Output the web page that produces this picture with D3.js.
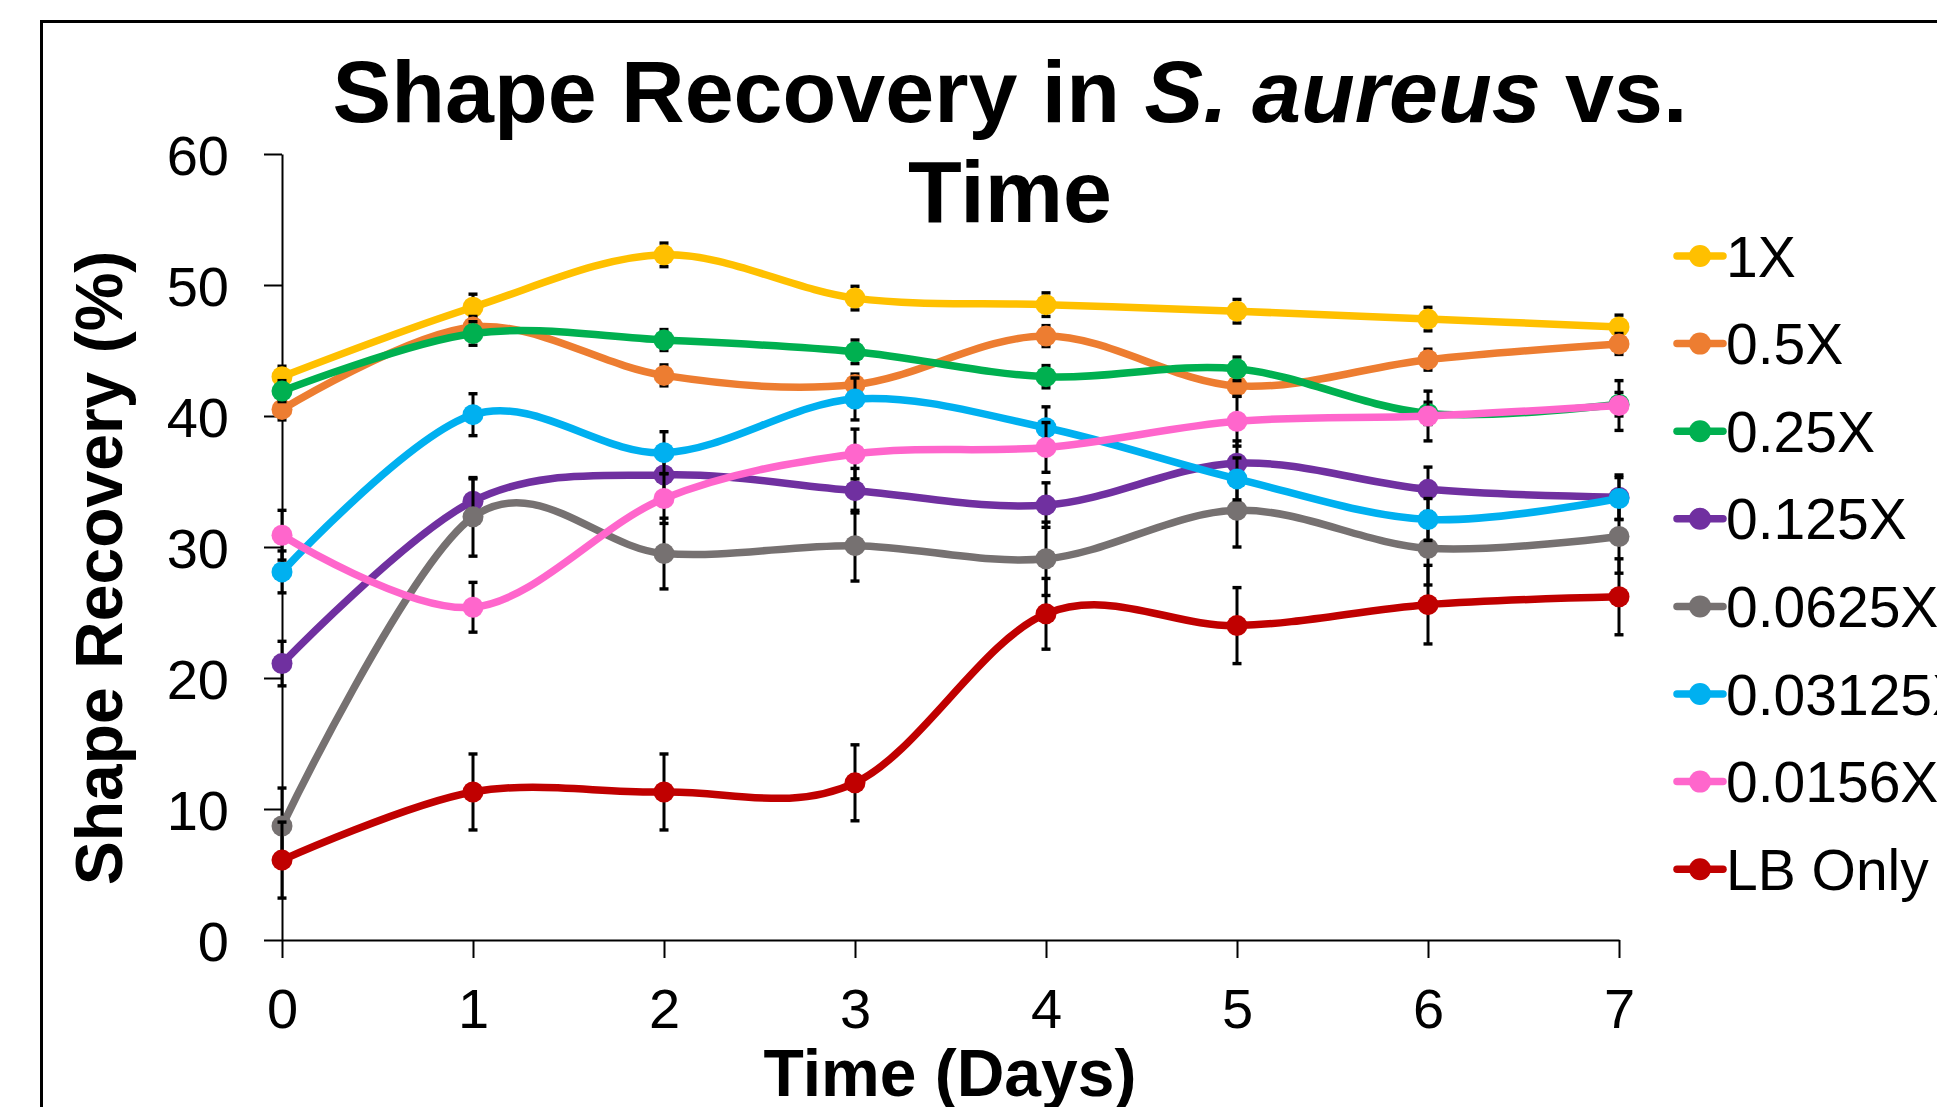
<!DOCTYPE html>
<html>
<head>
<meta charset="utf-8">
<script src="https://cdn.jsdelivr.net/npm/d3@7"></script>
<style>
  html, body { margin: 0; padding: 0; background: #fff; overflow: hidden; }
  svg { display: block; font-family: "Liberation Sans", Arial, Helvetica, sans-serif; }
</style>
</head>
<body>
<svg id="chart" width="1937" height="1107"></svg>
<script>
// ---- data ----
const days = [0, 1, 2, 3, 4, 5, 6, 7];
const seriesNames = ["1X", "0.5X", "0.25X", "0.125X", "0.0625X", "0.03125X", "0.0156X", "LB Only"];
const seriesColors = ["#FFC000", "#ED7D31", "#00B050", "#7030A0", "#767171", "#00B0F0", "#FF66CC", "#C00000"];

const v1X      = [43.0, 48.3, 52.3, 49.0, 48.5, 48.0, 47.4, 46.8];
const v05X     = [40.5, 46.8, 43.1, 42.4, 46.1, 42.3, 44.3, 45.5];
const v025X    = [41.9, 46.3, 45.8, 44.9, 43.0, 43.6, 40.2, 40.9];
const v0125X   = [21.1, 33.5, 35.5, 34.3, 33.2, 36.4, 34.4, 33.8];
const v00625X  = [8.7, 32.3, 29.5, 30.1, 29.1, 32.8, 29.9, 30.8];
const v003125X = [28.1, 40.1, 37.2, 41.3, 39.1, 35.2, 32.1, 33.7];
const v00156X  = [30.9, 25.4, 33.7, 37.1, 37.6, 39.6, 40.0, 40.8];
const vLB      = [6.1, 11.3, 11.3, 12.0, 24.9, 24.0, 25.6, 26.2];

const e1X      = [0.8, 1.0, 0.9, 0.9, 0.9, 0.9, 0.9, 0.9];
const e05X     = [0.8, 0.8, 0.8, 0.8, 0.8, 0.8, 0.8, 0.8];
const e025X    = [0.8, 0.9, 0.8, 0.9, 0.85, 0.9, 0.85, 0.9];
const e0125X   = [1.7, 1.7, 1.6, 1.7, 1.7, 1.7, 1.7, 1.7];
const e00625X  = [2.9, 3.0, 2.7, 2.7, 2.8, 2.8, 2.8, 2.8];
const e003125X = [1.6, 1.6, 1.6, 1.6, 1.6, 1.6, 1.6, 1.6];
const e00156X  = [1.9, 1.9, 1.9, 1.9, 1.9, 1.9, 1.9, 1.9];
const eLB      = [2.9, 2.9, 2.9, 2.9, 2.7, 2.9, 3.0, 2.9];

const yTicks = [0, 10, 20, 30, 40, 50, 60];
const xTicks = [0, 1, 2, 3, 4, 5, 6, 7];

const seriesValues = [v1X, v05X, v025X, v0125X, v00625X, v003125X, v00156X, vLB];
const seriesErrors = [e1X, e05X, e025X, e0125X, e00625X, e003125X, e00156X, eLB];

// ---- drawing ----
const svg = d3.select("#chart");
const FONT = '"Liberation Sans", Arial, Helvetica, sans-serif';

// outer chart border (extends past the visible frame)
svg.append("rect")
  .attr("x", 41.5).attr("y", 21.5)
  .attr("width", 2100).attr("height", 1300)
  .attr("fill", "none").attr("stroke", "#000").attr("stroke-width", 3);

const x = d3.scaleLinear().domain([0, 7]).range([282, 1619]);
const y = d3.scaleLinear().domain([0, 60]).range([940, 154]);

// axes
const yAxis = d3.axisLeft(y).tickValues(yTicks).tickFormat(d3.format("d"))
  .tickSize(18).tickSizeOuter(0).tickPadding(35);
const xAxis = d3.axisBottom(x).tickValues(xTicks).tickFormat(d3.format("d"))
  .tickSize(18).tickSizeOuter(0).tickPadding(30);

const gy = svg.append("g").attr("transform", "translate(282,0)").call(yAxis);
const gx = svg.append("g").attr("transform", "translate(0,940)").call(xAxis);

[gy, gx].forEach(g => {
  g.select(".domain").attr("stroke", "#000").attr("stroke-width", 2);
  g.selectAll(".tick line").attr("stroke", "#000").attr("stroke-width", 2);
  g.selectAll(".tick text")
    .attr("fill", "#000")
    .style("font-family", FONT)
    .style("font-size", "56px");
});
gy.selectAll(".tick text").attr("dy", "0.36em");
gx.selectAll(".tick text").attr("dy", "0.72em");

// series
const line = d3.line()
  .x((d, i) => x(days[i]))
  .y(d => y(d))
  .curve(d3.curveCardinal.tension(0));

seriesValues.forEach((vals, si) => {
  const color = seriesColors[si];
  const errs = seriesErrors[si];
  const g = svg.append("g").attr("class", "series");

  g.append("path")
    .datum(vals)
    .attr("d", line)
    .attr("fill", "none")
    .attr("stroke", color)
    .attr("stroke-width", 7.5)
    .attr("stroke-linejoin", "round")
    .attr("stroke-linecap", "round");

  // error bars
  const eb = g.append("g");
  vals.forEach((v, i) => {
    const cx = x(days[i]);
    const y1 = y(v + errs[i]), y2 = y(v - errs[i]);
    eb.append("line").attr("x1", cx).attr("x2", cx).attr("y1", y1).attr("y2", y2)
      .attr("stroke", "#000").attr("stroke-width", 3);
    [y1, y2].forEach(yy => {
      eb.append("line").attr("x1", cx - 4.5).attr("x2", cx + 4.5).attr("y1", yy).attr("y2", yy)
        .attr("stroke", "#000").attr("stroke-width", 3.4);
    });
  });

  g.selectAll("circle.m")
    .data(vals)
    .enter().append("circle")
    .attr("class", "m")
    .attr("cx", (d, i) => x(days[i]))
    .attr("cy", d => y(d))
    .attr("r", 10.5)
    .attr("fill", color);
});

// title
const title = svg.append("text")
  .attr("text-anchor", "middle")
  .style("font-family", FONT)
  .style("font-size", "88px")
  .style("font-weight", "bold")
  .attr("fill", "#000");
const t1 = title.append("tspan").attr("x", 1010).attr("y", 122);
t1.append("tspan").text("Shape Recovery in ");
t1.append("tspan").style("font-style", "italic").text("S. aureus");
t1.append("tspan").text(" vs.");
title.append("tspan").attr("x", 1010).attr("y", 222).text("Time");

// axis titles
svg.append("text")
  .attr("transform", "translate(122,568) rotate(-90)")
  .attr("text-anchor", "middle")
  .style("font-family", FONT)
  .style("font-size", "66px")
  .style("font-weight", "bold")
  .attr("fill", "#000")
  .text("Shape Recovery (%)");

svg.append("text")
  .attr("x", 950).attr("y", 1096)
  .attr("text-anchor", "middle")
  .style("font-family", FONT)
  .style("font-size", "66px")
  .style("font-weight", "bold")
  .attr("fill", "#000")
  .text("Time (Days)");

// legend
const legend = svg.append("g");
seriesNames.forEach((name, i) => {
  const ly = 256 + i * 87.6;
  const lg = legend.append("g").attr("transform", `translate(0,${ly})`);
  lg.append("line").attr("x1", 1677).attr("x2", 1723).attr("y1", 0).attr("y2", 0)
    .attr("stroke", seriesColors[i]).attr("stroke-width", 7.5).attr("stroke-linecap", "round");
  lg.append("circle").attr("cx", 1700).attr("cy", 0).attr("r", 11).attr("fill", seriesColors[i]);
  lg.append("text").attr("x", 1726).attr("y", 0).attr("dy", "0.36em")
    .style("font-family", FONT).style("font-size", "57px").attr("fill", "#000")
    .text(name);
});
</script>
</body>
</html>
